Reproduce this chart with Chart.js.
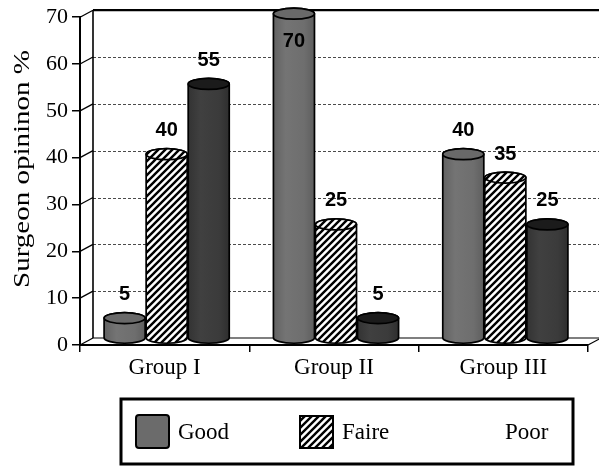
<!DOCTYPE html>
<html>
<head>
<meta charset="utf-8">
<script src="https://cdn.jsdelivr.net/npm/chart.js@4/dist/chart.umd.min.js"></script>
<style>
  html, body { margin: 0; padding: 0; background: #fff; }
  canvas { display: block; }
</style>
</head>
<body>
<canvas id="c" width="599" height="467"></canvas>
<script>
// ---- data ----
const categories = ['Group I', 'Group II', 'Group III'];
const seriesNames = ['Good', 'Faire', 'Poor'];
const goodValues = [5, 70, 40];
const faireValues = [40, 25, 35];
const poorValues = [55, 5, 25];
const yTickValues = [0, 10, 20, 30, 40, 50, 60, 70];
const axisTitle = 'Surgeon opininon %';

// ---- 3D look ----
const DX = 13;     // depth offset to the right
const DY = 7;      // depth offset upwards
const RY = 5.5;    // vertical radius of cylinder ends
const SHIFT = 2;   // cylinders sit a little into the depth

const canvas = document.getElementById('c');
const ctx0 = canvas.getContext('2d');

function makeHatch() {
  const s = 7;
  const c = document.createElement('canvas');
  c.width = s; c.height = s;
  const g = c.getContext('2d');
  g.fillStyle = '#fff';
  g.fillRect(0, 0, s, s);
  g.strokeStyle = '#000';
  g.lineWidth = 2.4;
  g.beginPath();
  g.moveTo(-1, s + 1); g.lineTo(s + 1, -1);
  g.moveTo(-1, 1); g.lineTo(1, -1);
  g.moveTo(s - 1, s + 1); g.lineTo(s + 1, s - 1);
  g.stroke();
  return ctx0.createPattern(c, 'repeat');
}
const hatch = makeHatch();

const styles = [
  { body: [['0', '#626262'], ['0.3', '#747474'], ['0.75', '#6e6e6e'], ['1', '#5e5e5e']], top: '#696969', swatch: '#6b6b6b' },
  { pattern: true },
  { body: [['0', '#333333'], ['0.3', '#404040'], ['0.75', '#3b3b3b'], ['1', '#2e2e2e']], top: '#1b1b1b', swatch: null }
];

function line(ctx, x1, y1, x2, y2) {
  ctx.beginPath();
  ctx.moveTo(x1, y1);
  ctx.lineTo(x2, y2);
  ctx.stroke();
}

function drawCylinder(ctx, cx, topY, botY, rx, st) {
  let bodyFill, topFill;
  if (st.pattern) {
    bodyFill = hatch; topFill = hatch;
  } else {
    const gr = ctx.createLinearGradient(cx - rx, 0, cx + rx, 0);
    st.body.forEach(s => gr.addColorStop(parseFloat(s[0]), s[1]));
    bodyFill = gr; topFill = st.top;
  }
  ctx.lineWidth = 1.7;
  ctx.strokeStyle = '#000';
  ctx.beginPath();
  ctx.moveTo(cx - rx, topY);
  ctx.lineTo(cx - rx, botY);
  ctx.ellipse(cx, botY, rx, RY, 0, Math.PI, 0, true);
  ctx.lineTo(cx + rx, topY);
  ctx.ellipse(cx, topY, rx, RY, 0, 0, Math.PI, true);
  ctx.closePath();
  ctx.fillStyle = bodyFill;
  ctx.fill();
  ctx.stroke();
  ctx.beginPath();
  ctx.ellipse(cx, topY, rx, RY, 0, 0, Math.PI * 2);
  ctx.fillStyle = topFill;
  ctx.fill();
  ctx.stroke();
}

const cylinders3d = {
  id: 'cylinders3d',
  beforeDatasetsDraw(chart) {
    const { ctx, chartArea: a, scales: { y } } = chart;
    ctx.save();

    // back wall gridlines
    ctx.strokeStyle = '#4a4a4a';
    ctx.lineWidth = 1;
    ctx.setLineDash([3, 2]);
    yTickValues.forEach(v => {
      if (v === y.min || v === y.max) return;
      const py = Math.round(y.getPixelForValue(v) - DY) + 0.5;
      line(ctx, a.left + DX, py, chart.width, py);
    });
    ctx.setLineDash([]);

    // tick connectors from the front axis to the back wall
    ctx.strokeStyle = '#000';
    ctx.lineWidth = 1.3;
    yTickValues.forEach(v => {
      const py = y.getPixelForValue(v);
      line(ctx, a.left, py, a.left + DX, py - DY);
    });

    // back wall left edge
    ctx.lineWidth = 1.6;
    line(ctx, a.left + DX, a.top - DY, a.left + DX, a.bottom - DY);
    // top edge of the back wall
    ctx.lineWidth = 2.2;
    line(ctx, a.left + DX, a.top - DY, chart.width, a.top - DY);
    // floor
    ctx.lineWidth = 1.2;
    line(ctx, a.left + DX, a.bottom - DY, chart.width, a.bottom - DY);
    line(ctx, a.right, a.bottom, a.right + DX, a.bottom - DY);

    // cylinders
    const labels = [];
    chart.data.datasets.forEach((ds, di) => {
      const meta = chart.getDatasetMeta(di);
      meta.data.forEach((bar, i) => {
        const p = bar.getProps(['x', 'y', 'base', 'width'], true);
        const cx = p.x + SHIFT;
        const rx = p.width / 2 - 0.5;
        const topY = p.y - 3.5;
        const botY = p.base - 6.5;
        drawCylinder(ctx, cx, topY, botY, rx, styles[di]);
        labels.push({ x: cx, y: p.y, text: String(ds.data[i]) });
      });
    });

    // value labels
    ctx.fillStyle = '#000';
    ctx.font = 'bold 20px "Liberation Sans", Arial, sans-serif';
    ctx.textAlign = 'center';
    ctx.textBaseline = 'middle';
    labels.forEach(l => {
      let ly = l.y - 27;
      if (ly < a.top) ly = l.y + 24;
      ctx.fillText(l.text, l.x, ly);
    });

    ctx.restore();
    return false;
  },
  afterDraw(chart) {
    const ctx = chart.ctx;
    ctx.save();

    // vertical axis title
    ctx.font = '23px "Liberation Serif", "Times New Roman", serif';
    ctx.fillStyle = '#000';
    const w = ctx.measureText(axisTitle).width;
    ctx.translate(29, 169);
    ctx.rotate(-Math.PI / 2);
    ctx.scale(238 / w, 1);
    ctx.textAlign = 'center';
    ctx.textBaseline = 'alphabetic';
    ctx.fillText(axisTitle, 0, 0);
    ctx.setTransform(1, 0, 0, 1, 0, 0);

    // legend
    ctx.strokeStyle = '#000';
    ctx.lineWidth = 3;
    ctx.strokeRect(121, 399, 452, 65);
    const items = [
      { sx: 136, tx: 178 },
      { sx: 300, tx: 342 },
      { sx: 466, tx: 505 }
    ];
    ctx.font = '23px "Liberation Serif", "Times New Roman", serif';
    ctx.textAlign = 'left';
    ctx.textBaseline = 'middle';
    chart.data.datasets.forEach((ds, di) => {
      const it = items[di];
      const st = styles[di];
      if (st.pattern) {
        ctx.fillStyle = hatch;
        ctx.fillRect(it.sx, 416, 33, 32);
        ctx.lineWidth = 2;
        ctx.strokeRect(it.sx, 416, 33, 32);
      } else if (st.swatch) {
        ctx.beginPath();
        ctx.roundRect(it.sx, 415, 33, 33, 3);
        ctx.fillStyle = st.swatch;
        ctx.fill();
        ctx.lineWidth = 2;
        ctx.stroke();
      }
      ctx.fillStyle = '#000';
      ctx.fillText(ds.label, it.tx, 433);
    });

    ctx.restore();
  }
};

new Chart(canvas, {
  type: 'bar',
  data: {
    labels: categories,
    datasets: [
      { label: seriesNames[0], data: goodValues, backgroundColor: '#6b6b6b' },
      { label: seriesNames[1], data: faireValues, backgroundColor: '#ffffff' },
      { label: seriesNames[2], data: poorValues, backgroundColor: '#3a3a3a' }
    ]
  },
  options: {
    responsive: false,
    animation: false,
    events: [],
    categoryPercentage: 0.745,
    barPercentage: 1,
    layout: { padding: { top: 16, right: 11, bottom: 82, left: 0 } },
    plugins: { legend: { display: false }, tooltip: { enabled: false } },
    scales: {
      x: {
        offset: true,
        grid: { display: true, drawOnChartArea: false, drawTicks: true, tickLength: 7, color: '#000', lineWidth: 1.5, offset: true },
        border: { display: true, color: '#000', width: 2 },
        ticks: { color: '#000', font: { family: '"Liberation Serif", "Times New Roman", serif', size: 23 }, padding: 2, maxRotation: 0 },
        afterFit(s) { s.height = 40; }
      },
      y: {
        min: 0,
        max: 70,
        afterBuildTicks(s) { s.ticks = yTickValues.map(v => ({ value: v })); },
        grid: { drawOnChartArea: false, drawTicks: true, tickLength: 8, color: '#000', lineWidth: 1.5 },
        border: { display: true, color: '#000', width: 2 },
        ticks: { color: '#000', font: { family: '"Liberation Serif", "Times New Roman", serif', size: 22 }, padding: 4 },
        afterFit(s) { s.width = 80; }
      }
    }
  },
  plugins: [cylinders3d]
});
</script>
</body>
</html>
